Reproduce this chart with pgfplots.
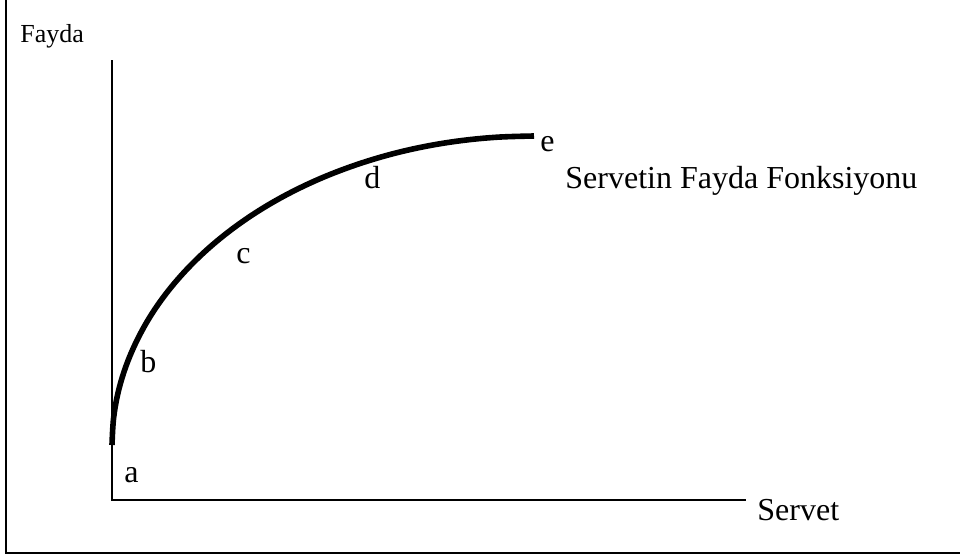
\documentclass[border=0pt]{standalone}
\usepackage{pgfplots}
\pgfplotsset{compat=1.18}
\usepackage{fontspec}
\setmainfont{Liberation Serif}
\begin{document}
\begin{tikzpicture}
\begin{axis}[
  name=ax,
  scale only axis,
  width=480pt, height=278.5pt,
  xmin=0, xmax=960, ymin=0, ymax=557,
  y dir=reverse,
  hide axis,
  clip=false,
]
% frame (left and bottom)
\addplot[black, line width=1pt] coordinates {(5.5,0) (5.5,553) (960,553)};
% axes
\addplot[black, line width=1.1pt] coordinates {(112,60) (112,500) (746,500)};
% utility curve
\addplot[black, line width=2.8pt, smooth, tension=0.6] coordinates {
(112,445) (113.6,418.1) (118.4,391.3) (126.4,365.0) (137.5,339.3)
(151.5,314.4) (168.5,290.5) (188.3,267.8) (210.7,246.4) (235.6,226.5)
(262.7,208.3) (291.9,191.9) (323.0,177.4) (355.6,165.0) (389.7,154.6)
(424.8,146.5) (460.7,140.7) (497.2,137.2) (534,136)};
% labels
\node[anchor=base west, inner sep=0pt, font=\fontsize{13}{15}\selectfont] at (axis cs:20,42) {Fayda};
\node[anchor=base west, inner sep=0pt, font=\fontsize{16}{19}\selectfont] at (axis cs:757,520) {Servet};
\node[anchor=base west, inner sep=0pt, font=\fontsize{16}{19}\selectfont] at (axis cs:565,188) {Servetin Fayda Fonksiyonu};
\node[anchor=base west, inner sep=0pt, font=\fontsize{16}{19}\selectfont] at (axis cs:540,151) {e};
\node[anchor=base west, inner sep=0pt, font=\fontsize{16}{19}\selectfont] at (axis cs:364,188) {d};
\node[anchor=base west, inner sep=0pt, font=\fontsize{16}{19}\selectfont] at (axis cs:236,263) {c};
\node[anchor=base west, inner sep=0pt, font=\fontsize{16}{19}\selectfont] at (axis cs:140,372) {b};
\node[anchor=base west, inner sep=0pt, font=\fontsize{16}{19}\selectfont] at (axis cs:124,482) {a};
\end{axis}
\pgfresetboundingbox
\path (ax.south west) rectangle (ax.north east);
\end{tikzpicture}
\end{document}
